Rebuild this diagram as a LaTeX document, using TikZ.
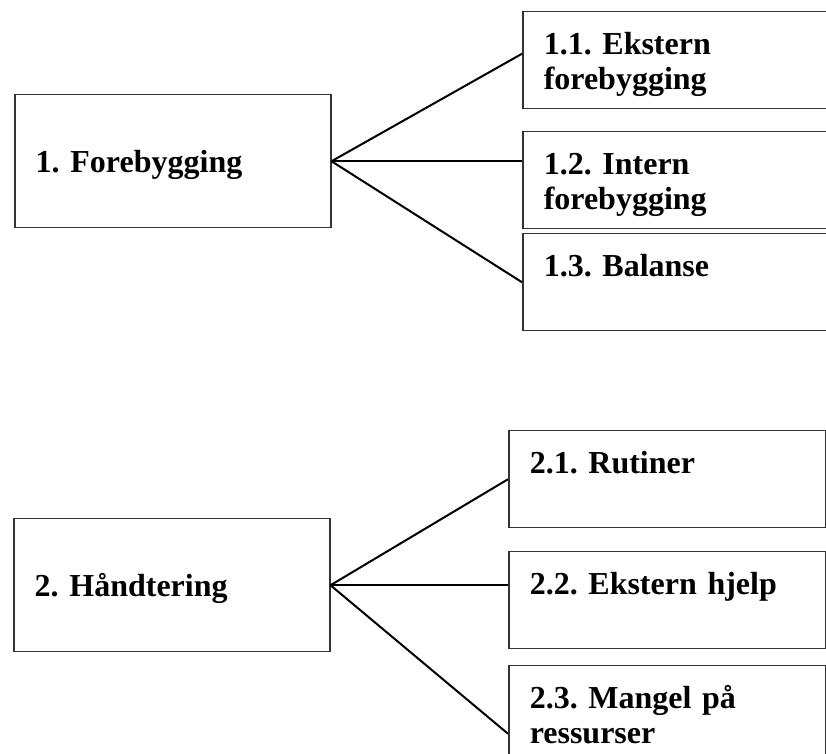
\documentclass[tikz,border=0pt]{standalone}
\usepackage{fontspec}
\setmainfont{Liberation Serif}
\usepackage{tikz}
\frenchspacing

\begin{document}
\begin{tikzpicture}[
            x=0.5pt, y=-0.5pt,
            font=\bfseries\fontsize{16}{17.5}\selectfont,
            mainbox/.style={
            draw=black!80, line width=0.75pt,
            anchor=north west, align=left,
            inner xsep=10.5pt, text width=137pt,
            minimum height=66.5pt,
            text height=11.5pt, text depth=0pt
            },
            subbox/.style={
            draw=black!80, line width=0.75pt,
            anchor=north west, align=left,
            inner xsep=10.5pt, inner ysep=10.5pt,
            text width=#1,
            text height=10.8pt, text depth=16.7pt
            },
            subbox/.default=132pt,
            link/.style={line width=1pt}
            ]
            \useasboundingbox (0,0) rectangle (826,754);
            \clip (0,0) rectangle (826,754);
            % forebygging
            \node[mainbox] (f1) at (14,94) {1. Forebygging};
            \node[subbox] (f11) at (522,11) {1.1. Ekstern\\forebygging};
            \node[subbox] (f12) at (522,131) {1.2. Intern\\forebygging};
            \node[subbox] (f13) at (522,233) {1.3. Balanse};
            % handtering
            \node[mainbox] (h2) at (13,518) {2. Håndtering};
            \node[subbox=137.5pt] (h21) at (508,430) {2.1. Rutiner};
            \node[subbox=137.5pt] (h22) at (508,551) {2.2. Ekstern hjelp};
            \node[subbox=137.5pt,text depth=36.2pt] (h23) at (508,665) {2.3. Mangel på\\ressurser};
            \path[link]
            (f1.east) edge ([yshift=3.25pt]f11.west)
            (f1.east) edge (f1.east -| f12.west)
            (f1.east) edge (f13.west)
            (h2.east) edge (h21.west)
            (h2.east) edge (h2.east -| h22.west)
            (h2.east) edge (h23.west);
        \end{tikzpicture}
\end{document}
